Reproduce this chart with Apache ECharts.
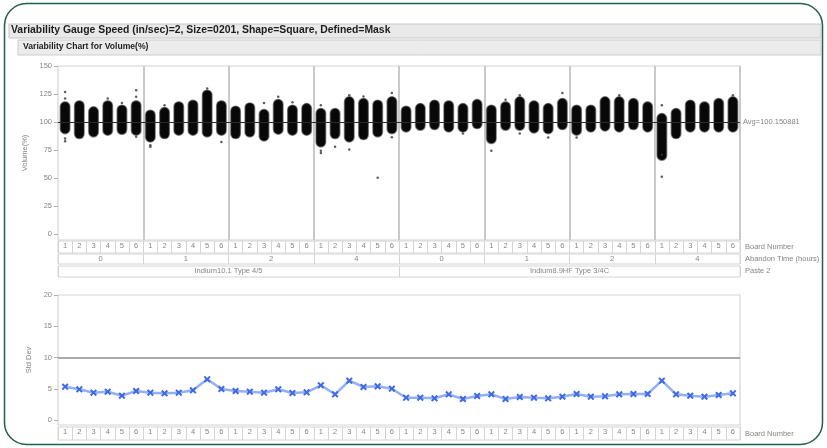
<!DOCTYPE html>
<html>
<head>
<meta charset="utf-8">
<script src="https://cdn.jsdelivr.net/npm/echarts@6/dist/echarts.min.js"></script>
<style>
  html, body { margin: 0; padding: 0; background: #fff; }
  #chart { width: 827px; height: 448px; }
</style>
</head>
<body>
<div id="chart"></div>
<script>
  // grouping levels (outer to inner)
  var pastes = ['Indium10.1 Type 4/5', 'Indium8.9HF Type 3/4C'];
  var abandonTimes = ['0', '1', '2', '4'];
  var boards = ['1', '2', '3', '4', '5', '6'];

  // dense core of the jittered points per cell
  var bodyLow = [89.8, 85.4, 86.9, 88.4, 89.2, 88.4, 82.4, 85.4, 88.4, 88.4, 86.9, 88.4,
    85.4, 86.9, 83.3, 89.3, 88.4, 88.4, 78.0, 85.4, 82.4, 84.5, 86.9, 89.8,
    91.3, 92.8, 93.4, 91.3, 91.3, 94.3, 81.0, 92.8, 92.8, 90.4, 89.8, 93.4,
    88.4, 91.3, 92.2, 91.3, 93.4, 91.3, 66.1, 85.4, 91.3, 91.3, 91.3, 91.3];
  var bodyHigh = [118.0, 118.9, 113.6, 118.9, 115.1, 118.9, 110.6, 113.0, 118.0, 119.5, 128.4, 118.9,
    114.2, 117.1, 111.2, 120.1, 115.1, 116.5, 112.1, 112.1, 122.5, 121.0, 119.5, 122.5,
    114.2, 116.5, 119.5, 118.9, 116.5, 120.1, 115.1, 118.0, 122.5, 118.9, 116.5, 121.0,
    115.1, 115.1, 122.5, 122.5, 121.0, 118.0, 107.6, 112.1, 119.5, 118.0, 121.0, 122.5];
  // stray points: [cell index, volume]
  var outliers = [[0, 126.9], [0, 121], [0, 85.4], [0, 83], [3, 121], [4, 117], [5, 128.4], [5, 122.5],
    [5, 86.9], [6, 79.5], [6, 78], [7, 115], [10, 130], [11, 82.4], [14, 117.1], [15, 122.5],
    [16, 117.8], [18, 115], [18, 74.4], [18, 72.6], [19, 78], [20, 124], [20, 75.6], [21, 122.8],
    [22, 50.4], [23, 126], [23, 86.5], [28, 89.8], [30, 74.4], [31, 120], [32, 124], [32, 89.8],
    [34, 86.3], [35, 126], [36, 86.3], [39, 124], [42, 115.1], [42, 71], [42, 51.3], [47, 124]];
  var avgVolume = 100.150881;

  var stdDev = [5.33, 4.91, 4.37, 4.53, 3.89, 4.64, 4.37, 4.27, 4.37, 4.75, 6.51, 4.96,
    4.64, 4.53, 4.37, 4.91, 4.32, 4.43, 5.55, 4.11, 6.29, 5.28, 5.39, 5.01,
    3.57, 3.57, 3.47, 4.11, 3.36, 3.84, 4.11, 3.36, 3.68, 3.57, 3.47, 3.73,
    4.16, 3.73, 3.79, 4.11, 4.16, 4.16, 6.29, 4.11, 3.89, 3.73, 4.00, 4.27];
  var stdDevLimit = 10;

  var volumeTicks = [0, 25, 50, 75, 100, 125, 150];
  var stdTicks = [0, 5, 10, 15, 20];

  var boardCells = [], abandonCells = [], pasteCells = [];
  pastes.forEach(function (p) {
    pasteCells.push(p);
    abandonTimes.forEach(function (a) {
      abandonCells.push(a);
      boards.forEach(function (b) { boardCells.push(b); });
    });
  });
  var cellIdx = boardCells.map(function (b, i) { return String(i); });

  var FONT = 'Liberation Sans, Arial, sans-serif';
  var GRAY = '#858585';
  var FRAME = '#d4d4d4';
  var L = 58, W = 682;

  var chart = echarts.init(document.getElementById('chart'));

  // jittered cloud drawn as a black capsule with a soft grey rim
  function renderBody(params, api) {
    var x = api.value(0);
    var top = api.coord([x, api.value(2)]);
    var bot = api.coord([x, api.value(1)]);
    var w = api.size([1, 0])[0] * 0.66;
    return {
      type: 'rect',
      shape: { x: top[0] - w / 2, y: top[1], width: w, height: bot[1] - top[1], r: w / 2 },
      style: { fill: '#080808', stroke: 'rgba(40,40,40,0.55)', lineWidth: 1.6 }
    };
  }

  function headerAxis(grid, data, size) {
    return {
      gridIndex: grid, type: 'category', data: data,
      axisLine: { show: false }, axisTick: { show: false },
      splitLine: { show: true, interval: 0, lineStyle: { color: FRAME, width: 1 } },
      axisLabel: { interval: 0, margin: -(size - 1), color: GRAY, fontSize: 7.5, fontFamily: FONT }
    };
  }
  function hiddenY(grid) {
    return { gridIndex: grid, type: 'value', min: 0, max: 1, show: false };
  }
  function rowGrid(top, h) {
    return { left: L, width: W, top: top, height: h, show: true, borderColor: FRAME, borderWidth: 1 };
  }

  var option = {
    animation: false,
    grid: [
      { left: L, width: W, top: 66, height: 174, show: true, borderColor: FRAME, borderWidth: 1.2 },
      rowGrid(241, 12),
      rowGrid(254, 10),
      rowGrid(266, 11),
      { left: L, width: W, top: 295, height: 130, show: true, borderColor: FRAME, borderWidth: 1.2 },
      rowGrid(427, 13)
    ],
    xAxis: [
      {
        gridIndex: 0, type: 'category', data: cellIdx,
        axisLine: { show: false }, axisTick: { show: false }, axisLabel: { show: false },
        splitLine: {
          show: true,
          interval: function (i) { return i > 0 && i % 6 === 0; },
          lineStyle: { color: '#c9c9c9', width: 2 }
        }
      },
      headerAxis(1, boardCells, 12),
      headerAxis(2, abandonCells, 10),
      headerAxis(3, pasteCells, 11),
      {
        gridIndex: 4, type: 'category', data: cellIdx,
        axisLine: { show: false }, axisTick: { show: false }, axisLabel: { show: false },
        splitLine: { show: false }
      },
      headerAxis(5, boardCells, 13)
    ],
    yAxis: [
      {
        gridIndex: 0, type: 'value', min: -5, max: 150,
        name: 'Volume(%)', nameLocation: 'middle', nameRotate: 90, nameGap: 25,
        nameTextStyle: { color: GRAY, fontSize: 7.5, fontFamily: FONT },
        axisLine: { show: false },
        axisTick: { show: true, length: 4, customValues: volumeTicks, lineStyle: { color: '#b0b0b0' } },
        axisLabel: { customValues: volumeTicks, color: GRAY, fontSize: 7.5, fontFamily: FONT, margin: 6 },
        splitLine: { show: false }
      },
      hiddenY(1), hiddenY(2), hiddenY(3),
      {
        gridIndex: 4, type: 'value', min: -0.8, max: 20,
        name: 'Std Dev', nameLocation: 'middle', nameRotate: 90, nameGap: 25,
        nameTextStyle: { color: GRAY, fontSize: 7.5, fontFamily: FONT },
        axisLine: { show: false },
        axisTick: { show: true, length: 4, customValues: stdTicks, lineStyle: { color: '#b0b0b0' } },
        axisLabel: { customValues: stdTicks, color: GRAY, fontSize: 7.5, fontFamily: FONT, margin: 6 },
        splitLine: { show: false }
      },
      hiddenY(5)
    ],
    series: [
      {
        name: 'Volume', type: 'custom', xAxisIndex: 0, yAxisIndex: 0, z: 2,
        renderItem: renderBody,
        encode: { x: 0, y: [1, 2] },
        data: bodyLow.map(function (lo, i) { return [i, lo, bodyHigh[i]]; })
      },
      {
        name: 'Points', type: 'scatter', xAxisIndex: 0, yAxisIndex: 0, z: 3,
        symbolSize: 2.5, itemStyle: { color: '#333' },
        data: outliers,
        markLine: {
          silent: true, symbol: ['none', 'none'],
          lineStyle: { color: '#2a2a2a', width: 1, type: 'solid' },
          label: {
            position: 'end', distance: 3, color: GRAY, fontSize: 7.5, fontFamily: FONT,
            formatter: function () { return 'Avg=' + avgVolume.toFixed(6); }
          },
          data: [{ yAxis: avgVolume }]
        }
      },
      {
        name: 'Std Dev', type: 'line', xAxisIndex: 4, yAxisIndex: 4, z: 3,
        data: stdDev,
        symbol: 'path://M2,0L5,3L8,0L10,2L7,5L10,8L8,10L5,7L2,10L0,8L3,5L0,2Z',
        symbolSize: 7,
        itemStyle: { color: '#3d68e6' },
        lineStyle: { color: '#93b0f3', width: 2.5 },
        markLine: {
          silent: true, symbol: ['none', 'none'],
          lineStyle: { color: '#8e8e8e', width: 1.5, type: 'solid' },
          label: { show: false },
          data: [{ yAxis: stdDevLimit }]
        }
      }
    ],
    graphic: [
      {
        type: 'rect', z: 0,
        shape: { x: 4.5, y: 3.5, width: 818, height: 441, r: 22 },
        style: { fill: 'none', stroke: '#235e46', lineWidth: 1.5 }
      },
      {
        type: 'rect', z: 1,
        shape: { x: 9, y: 24, width: 812, height: 14 },
        style: { fill: '#e9e9e9', stroke: '#c6c6c6', lineWidth: 1 }
      },
      {
        type: 'text', z: 2, left: 11, top: 25,
        style: { text: 'Variability Gauge Speed (in/sec)=2, Size=0201, Shape=Square, Defined=Mask',
          font: 'bold 10.4px ' + FONT, fill: '#1c1c1c' }
      },
      {
        type: 'rect', z: 1,
        shape: { x: 18, y: 40, width: 803, height: 15 },
        style: { fill: '#ececec', stroke: '#cdcdcd', lineWidth: 1 }
      },
      {
        type: 'text', z: 2, left: 23, top: 42,
        style: { text: 'Variability Chart for Volume(%)', font: 'bold 8.6px ' + FONT, fill: '#1c1c1c' }
      },
      { type: 'text', left: 745, top: 243, style: { text: 'Board Number', font: '7.5px ' + FONT, fill: GRAY } },
      { type: 'text', left: 745, top: 255, style: { text: 'Abandon Time (hours)', font: '7.5px ' + FONT, fill: GRAY } },
      { type: 'text', left: 745, top: 267, style: { text: 'Paste 2', font: '7.5px ' + FONT, fill: GRAY } },
      { type: 'text', left: 745, top: 430, style: { text: 'Board Number', font: '7.5px ' + FONT, fill: GRAY } }
    ]
  };

  chart.setOption(option);
</script>
</body>
</html>
